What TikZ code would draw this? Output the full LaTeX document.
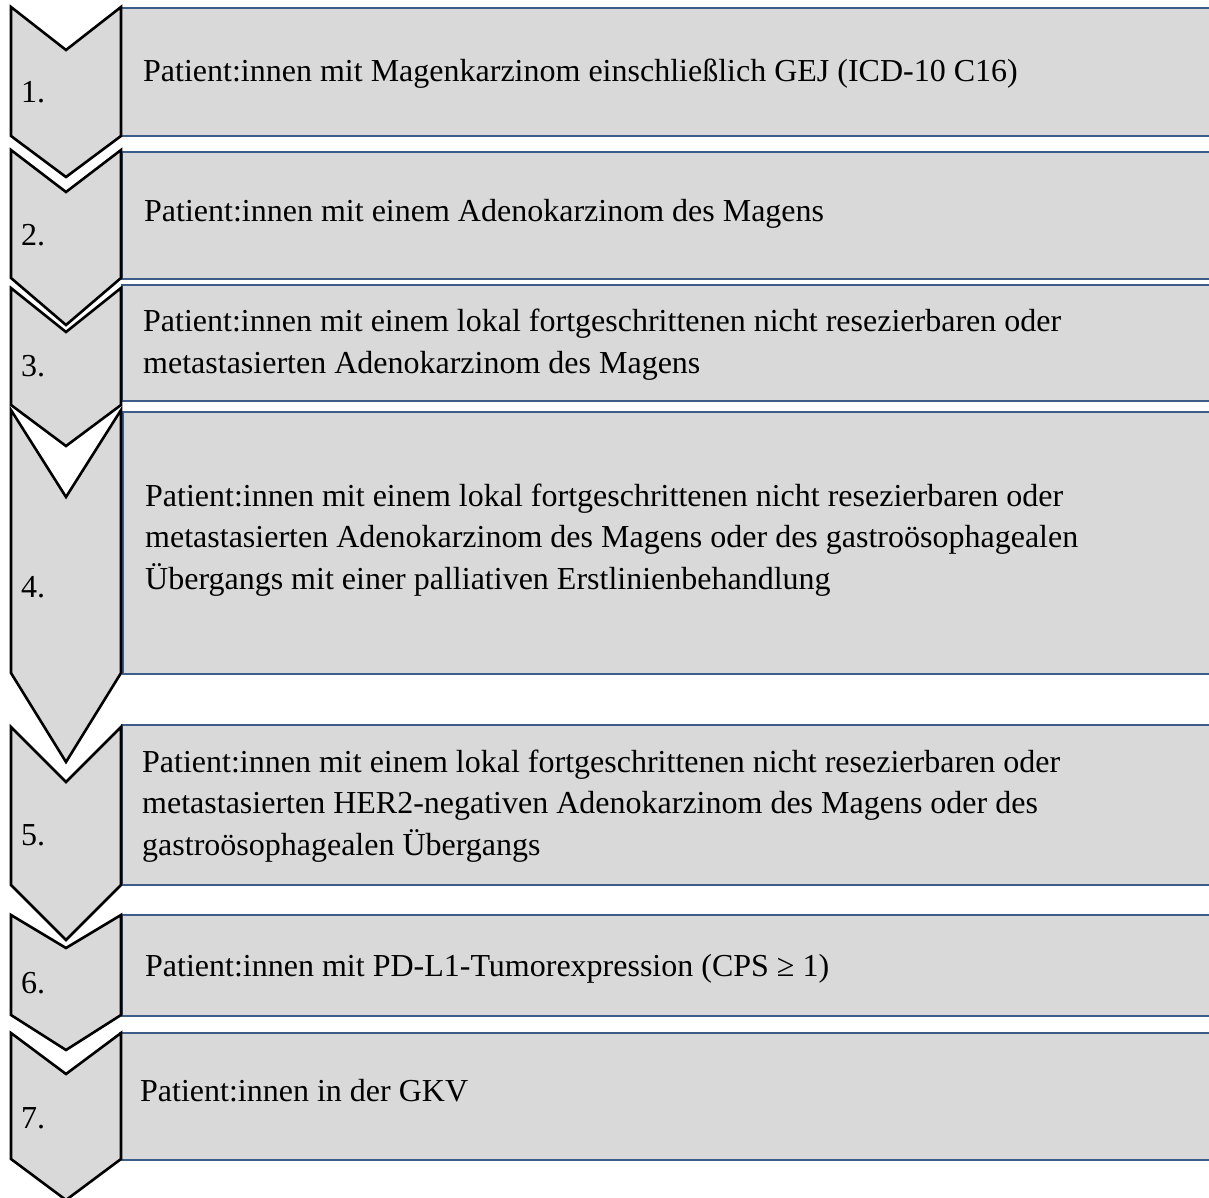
\documentclass[tikz,border=0pt]{standalone}
\usepackage{fontspec}
\setmainfont{Liberation Serif}
\definecolor{boxfill}{RGB}{217,217,217}
\definecolor{boxline}{RGB}{60,92,138}
\tikzset{
  chev/.style={draw=black, line width=2.6pt, fill=boxfill, line join=miter},
  stepbox/.style={draw=boxline, line width=2.8pt, fill=boxfill},
  txt/.style={anchor=base west, inner sep=0pt, align=left, font=\fontsize{32}{41.5}\selectfont},
  num/.style={anchor=base west, inner sep=0pt, font=\fontsize{32}{38}\selectfont}
}
% chevron: #1 top, #2 notch, #3 side bottom, #4 tip
\newcommand{\mychev}[4]{%
  \filldraw[chev] (11,#1) -- (66,#2) -- (121,#1) -- (121,#3) -- (66,#4) -- (11,#3) -- cycle;}
\begin{document}
\begin{tikzpicture}[x=1pt,y=-1pt]
\useasboundingbox (0,0) rectangle (1209,1198);
\clip (0,0) rectangle (1209,1198);
\fill[white] (0,0) rectangle (1209,1198);

% boxes
\draw[stepbox] (121,8) rectangle (1220,136);
\draw[stepbox] (122,152) rectangle (1220,279);
\draw[stepbox] (122,285) rectangle (1220,401);
\draw[stepbox] (123,412) rectangle (1220,674);
\draw[stepbox] (122,725) rectangle (1220,885);
\draw[stepbox] (122,915) rectangle (1220,1016);
\draw[stepbox] (120,1033) rectangle (1220,1160);

% chevrons
\mychev{7}{50}{136}{177}
\mychev{150}{192}{278}{325}
\mychev{288}{332}{405}{446}
\mychev{410}{497}{673}{762}
\mychev{727}{782}{885}{940}
\mychev{915}{948}{1015}{1050}
\mychev{1033}{1074}{1159}{1200}

% numbers
\node[num] (n1) at (21,103) {1.};
\node[num] (n2) at (21,246) {2.};
\node[num] (n3) at (21,376) {3.};
\node[num] (n4) at (21,597) {4.};
\node[num] (n5) at (21,845) {5.};
\node[num] (n6) at (21,993) {6.};
\node[num] (n7) at (21,1128) {7.};

% texts (base anchor = baseline of the last line)
\node[txt] (t1) at (143,82) {Patient:innen mit Magenkarzinom einschließlich GEJ (ICD-10 C16)};
\node[txt] (t2) at (144,222) {Patient:innen mit einem Adenokarzinom des Magens};
\node[txt] (t3) at (143,373) {Patient:innen mit einem lokal fortgeschrittenen nicht resezierbaren oder\\metastasierten Adenokarzinom des Magens};
\node[txt] (t4) at (145,589) {Patient:innen mit einem lokal fortgeschrittenen nicht resezierbaren oder\\metastasierten Adenokarzinom des Magens oder des gastroösophagealen\\Übergangs mit einer palliativen Erstlinienbehandlung};
\node[txt] (t5) at (142,855) {Patient:innen mit einem lokal fortgeschrittenen nicht resezierbaren oder\\metastasierten HER2-negativen Adenokarzinom des Magens oder des\\gastroösophagealen Übergangs};
\node[txt] (t6) at (145,976) {Patient:innen mit PD-L1-Tumorexpression (CPS ≥ 1)};
\node[txt] (t7) at (140,1101) {Patient:innen in der GKV};
\end{tikzpicture}
\end{document}
